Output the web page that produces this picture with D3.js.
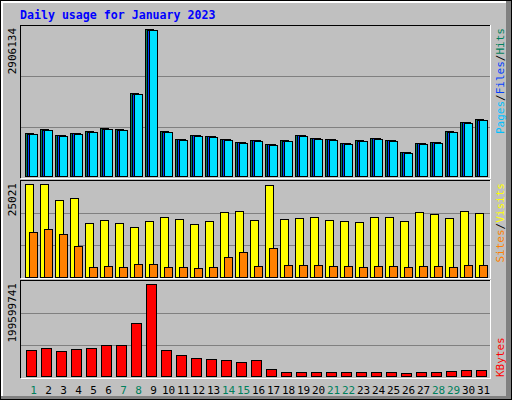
<!DOCTYPE html>
<html><head><meta charset="utf-8">
<script src="https://cdn.jsdelivr.net/npm/d3@7"></script>
<style>body{margin:0;background:#fff}svg{display:block}text{font-family:"DejaVu Sans Mono",monospace}</style>
</head><body><svg id="c" width="512" height="400"></svg>
<script>
const days = d3.range(1,32);
const weekend = [1,7,8,14,15,21,22,28,29];
const hits = [846000,925000,806000,846000,885000,945000,925000,1638000,2906134,885000,727000,806000,786000,727000,668000,707000,628000,707000,806000,747000,727000,648000,707000,747000,707000,470000,648000,668000,885000,1064000,1123000];
const files = [840000,920000,803000,843000,881000,940000,921000,1632000,2900000,880000,724000,803000,783000,724000,665000,704000,625000,703000,803000,744000,724000,645000,703000,744000,704000,466000,645000,665000,881000,1060000,1118000];
const pages = [826000,905000,800000,840000,880000,925000,920000,1618000,2886000,865000,722000,800000,780000,722000,662000,700000,610000,690000,790000,740000,720000,630000,700000,730000,700000,455000,630000,660000,865000,1055000,1105000];
const visits = [25021,25021,20690,21230,14460,15270,14460,13380,15000,16090,15540,14190,15000,17440,17710,15270,24950,15540,15820,16090,15270,15000,14730,16090,16090,15000,17440,16900,15820,17710,17170];
const sites = [12020,12840,11480,8500,2820,3090,2820,3630,3630,2820,2820,2550,2820,5520,6880,3090,7960,3360,3360,3360,3090,3090,2820,3090,3090,2820,3090,3090,2820,3360,3360];
const kbytes = [57650000,62000000,55500000,59800000,62000000,66400000,66400000,114400000,199599741,57650000,46700000,40200000,38000000,35800000,31400000,35800000,16200000,9600000,9600000,9600000,9600000,9600000,9600000,9600000,9600000,7400000,9600000,9600000,11800000,14000000,14000000];
const title = "Daily usage for January 2023";

const svg = d3.select("#c").attr("shape-rendering","crispEdges");
// frame
svg.append("rect").attr("x",0).attr("y",0).attr("width",512).attr("height",400).attr("fill","#000");
svg.append("rect").attr("x",1).attr("y",1).attr("width",510).attr("height",398).attr("fill","#808080");
svg.append("rect").attr("x",1).attr("y",1).attr("width",505).attr("height",395).attr("fill","#fff");
svg.append("rect").attr("x",3).attr("y",3).attr("width",503).attr("height",393).attr("fill","#c0c0c0");

svg.append("text").attr("x",20).attr("y",19).attr("fill","#0000ff").attr("font-weight","bold").attr("font-size","11.6px").text(title);

const x = d3.scaleLinear().domain([1,31]).range([25,475]);
const panels = [
  {y0:25,y1:178,base:176,top:29.3,max:d3.max(hits),label:"2906134"},
  {y0:180,y1:278,base:277,top:184.3,max:d3.max(visits),label:"25021"},
  {y0:280,y1:378,base:376,top:284.3,max:d3.max(kbytes),label:"199599741"}
];
panels.forEach(p=>{
  p.y = d3.scaleLinear().domain([0,p.max]).range([p.base,p.top]);
  svg.append("line").attr("x1",20.5).attr("x2",490.5).attr("y1",p.y1+0.5).attr("y2",p.y1+0.5).attr("stroke","#fff");
  svg.append("line").attr("x1",490.5).attr("x2",490.5).attr("y1",p.y0).attr("y2",p.y1+1).attr("stroke","#fff");
  svg.append("line").attr("x1",20.5).attr("x2",490).attr("y1",p.y0+0.5).attr("y2",p.y0+0.5).attr("stroke","#000");
  svg.append("line").attr("x1",20.5).attr("x2",20.5).attr("y1",p.y0).attr("y2",p.y1).attr("stroke","#000");
  const g = d3.scaleLinear().domain([0,3]).range([p.y1,p.y0]);
  [1,2].forEach(k=>svg.append("line").attr("x1",21).attr("x2",490).attr("y1",Math.round(g(k))+0.5).attr("y2",Math.round(g(k))+0.5).attr("stroke","#808080"));
  svg.append("text").attr("transform",`translate(16,${p.y0+3}) rotate(-90)`).attr("text-anchor","end").attr("font-size","11px").attr("fill","#000").text(p.label);
});
function bars(data, p, off, w, color){
  svg.append("g").selectAll("rect").data(data).join("rect")
    .attr("x",(d,i)=>Math.round(x(days[i]))+off+0.5)
    .attr("y",d=>Math.round(p.y(d))+0.5)
    .attr("width",w).attr("height",d=>Math.round(p.base)-Math.round(p.y(d)))
    .attr("fill",color).attr("stroke","#000");
}
bars(hits,panels[0],0,8,"#00805c");
bars(files,panels[0],2,8,"#0040ff");
bars(pages,panels[0],4,8,"#00e0ff");
bars(visits,panels[1],0,8,"#ffff00");
bars(sites,panels[1],4,8,"#ff8000");
bars(kbytes,panels[2],1,10,"#ff0000");

svg.append("g").selectAll("text").data(days).join("text")
  .attr("x",d=>x(d)+8.5).attr("y",394).attr("text-anchor","middle").attr("font-size","11px")
  .attr("fill",d=>weekend.includes(d)?"#00805c":"#000").text(d=>d);

function legend(parts, y, anchor){
  const t = svg.append("text").attr("transform",`translate(504,${y}) rotate(-90)`).attr("text-anchor",anchor).attr("font-size","11px");
  parts.forEach(([s,c])=>t.append("tspan").attr("fill",c).text(s));
}
legend([["Pages","#00c0ff"],["/","#000"],["Files","#0040ff"],["/","#000"],["Hits","#00805c"]],28,"end");
legend([["Sites","#ff8000"],["/","#000"],["Visits","#ffff00"]],183,"end");
legend([["KBytes","#ff0000"]],377,"start");
</script></body></html>
